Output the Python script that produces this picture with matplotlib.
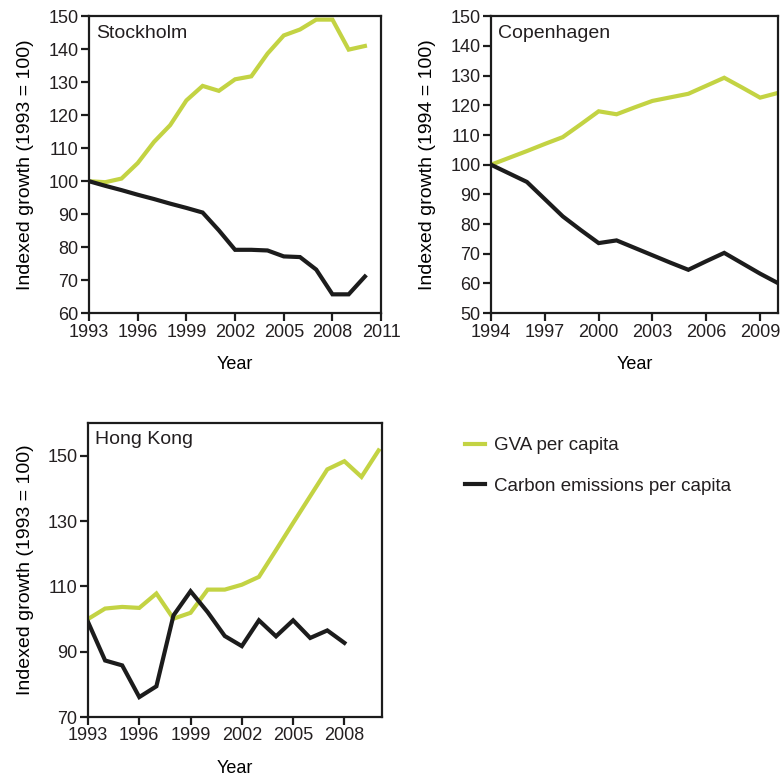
import matplotlib.pyplot as plt

plt.rcParams['font.family'] = ['Liberation Sans', 'DejaVu Sans']
plt.rcParams['font.size'] = 13
plt.rcParams['text.color'] = '#231f20'

gva_color = '#c3d343'
co2_color = '#1c1c1c'

# Stockholm (1993 = 100)
sto_years = list(range(1993, 2011))
sto_gva = [100, 99.7, 100.8, 105.5, 111.9, 117, 124.5, 128.9, 127.4, 130.9,
           131.8, 138.7, 144.2, 146, 149, 149, 139.9, 141]
sto_co2 = [100, 98.6, 97.3, 95.9, 94.6, 93.2, 91.9, 90.5, 85.1, 79.2,
           79.2, 79, 77.2, 77, 73.2, 65.7, 65.7, 71.1]

# Copenhagen (1994 = 100)
cph_years = list(range(1994, 2011))
cph_gva = [100, 102.3, 104.6, 107, 109.3, 113.6, 118, 117, 119.3, 121.5,
           122.7, 123.9, 126.6, 129.3, 126, 122.6, 124.2]
cph_co2 = [100, 97.1, 94.2, 88.4, 82.6, 78, 73.6, 74.5, 72, 69.5,
           67, 64.6, 67.5, 70.3, 66.8, 63.3, 60.1]

# Hong Kong (1993 = 100)
hk_years = list(range(1993, 2011))
hk_gva = [100, 103.2, 103.7, 103.4, 107.8, 100.1, 101.9, 109, 109, 110.5,
          112.9, 121.1, 129.4, 137.6, 145.8, 148.3, 143.5, 151.6]
hk_co2_years = list(range(1993, 2009))
hk_co2 = [99.1, 87.3, 85.8, 76.1, 79.4, 101.1, 108.5, 102.1, 94.8, 91.7,
          99.6, 94.7, 99.6, 94.2, 96.5, 92.7]

fig = plt.figure(figsize=(7.81, 7.77), dpi=100)
ax1 = fig.add_axes([0.114, 0.597, 0.374, 0.382])
ax2 = fig.add_axes([0.6287, 0.597, 0.3675, 0.382])
ax3 = fig.add_axes([0.1127, 0.0772, 0.3764, 0.3784])


def style(ax, name, base):
    for s in ax.spines.values():
        s.set_linewidth(1.6)
        s.set_color('#1c1c1c')
    ax.tick_params(direction='out', length=5.5, width=1.6, pad=2,
                   colors='#1c1c1c', labelcolor='#231f20', labelsize=13)
    ax.text(0.025, 0.972, name, transform=ax.transAxes, va='top', ha='left', fontsize=14)
    ax.set_xlabel('Year', labelpad=11, fontsize=13)
    ax.set_ylabel('Indexed growth (' + base + ' = 100)', labelpad=10, fontsize=14)


ax1.plot(sto_years, sto_gva, color=gva_color, lw=3, solid_joinstyle='miter')
ax1.plot(sto_years, sto_co2, color=co2_color, lw=3, solid_joinstyle='miter')
ax1.set_xlim(1993, 2011)
ax1.set_ylim(60, 150)
ax1.set_xticks(range(1993, 2012, 3))
ax1.set_yticks(range(60, 151, 10))
style(ax1, 'Stockholm', '1993')

ax2.plot(cph_years, cph_gva, color=gva_color, lw=3, solid_joinstyle='miter')
ax2.plot(cph_years, cph_co2, color=co2_color, lw=3, solid_joinstyle='miter')
ax2.set_xlim(1994, 2010)
ax2.set_ylim(50, 150)
ax2.set_xticks(range(1994, 2010, 3))
ax2.set_yticks(range(50, 151, 10))
style(ax2, 'Copenhagen', '1994')

l1, = ax3.plot(hk_years, hk_gva, color=gva_color, lw=3, solid_joinstyle='miter')
l2, = ax3.plot(hk_co2_years, hk_co2, color=co2_color, lw=3, solid_joinstyle='miter')
ax3.set_xlim(1993, 2010.2)
ax3.set_ylim(70, 160)
ax3.set_xticks(range(1993, 2009, 3))
ax3.set_yticks(range(70, 151, 20))
style(ax3, 'Hong Kong', '1993')

fig.legend([l1, l2], ['GVA per capita', 'Carbon emissions per capita'],
           loc='upper left', bbox_to_anchor=(0.574, 0.459), frameon=False,
           handlelength=1.05, handletextpad=0.5, labelspacing=1.25, fontsize=13.5)

fig.savefig('out.png', dpi=100)
